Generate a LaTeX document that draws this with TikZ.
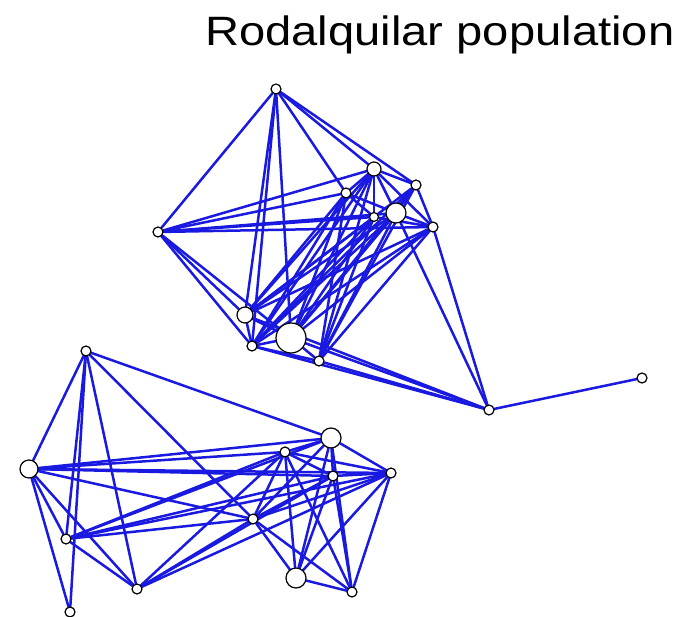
\documentclass[tikz,border=0pt]{standalone}
\usepackage{fontspec}
\setmainfont{Liberation Sans}
\usetikzlibrary{backgrounds}
\definecolor{edgeblue}{RGB}{25,25,225}
\tikzset{
  vtx/.style={circle,draw=black,fill=white,line width=1.2pt,inner sep=0pt,minimum size=#1},
  vtx/.default=10pt,
  edge/.style={draw=edgeblue,line width=2.5pt,line cap=round}
}
\begin{document}
\begin{tikzpicture}[x=1pt,y=-1pt]
\useasboundingbox (0,0) rectangle (697,617);
\node[anchor=base west,inner sep=0pt] (title) at (205,46) {\scalebox{1.15}[1]{\fontsize{41}{50}\selectfont Rodalquilar population}};
% top cluster
\node[vtx] (T1) at (276,89) {};
\node[vtx=14pt] (A) at (374,169) {};
\node[vtx] (B) at (416,185) {};
\node[vtx] (C) at (346,193) {};
\node[vtx=20pt] (D) at (396,213) {};
\node[vtx=9pt] (E) at (374,217) {};
\node[vtx] (F) at (433,227) {};
\node[vtx] (G) at (158,232) {};
\node[vtx=16pt] (H) at (245,315) {};
\node[vtx=30pt] (I) at (291,338) {};
\node[vtx] (J) at (252,346) {};
\node[vtx] (K) at (319,361) {};
\node[vtx] (L) at (489,410) {};
\node[vtx] (M) at (642,378) {};
% bottom cluster
\node[vtx] (N) at (86,351) {};
\node[vtx=20pt] (O) at (331,438) {};
\node[vtx] (P) at (285,452) {};
\node[vtx=18pt] (Q) at (29,469) {};
\node[vtx] (R) at (333,476) {};
\node[vtx] (S) at (391,473) {};
\node[vtx] (T) at (253,519) {};
\node[vtx] (U) at (66,539) {};
\node[vtx] (V) at (137,589) {};
\node[vtx=20pt] (W) at (296,578) {};
\node[vtx] (X) at (352,592) {};
\node[vtx] (Y) at (70,612) {};
\begin{scope}[on background layer]
% top cluster edges
\foreach \a/\b in {T1/G,T1/H,T1/J,T1/I,T1/C,T1/A,T1/B,
  G/A,G/C,G/E,G/D,G/F,G/H,G/J,G/I,
  A/B,A/C,A/D,A/E,A/F,B/D,B/F,C/D,C/E,D/F,E/F,
  H/J,H/I,J/I,I/K,J/K,
  D/L,F/L,H/L,J/L,I/L,K/L,L/M}
  \draw[edge] (\a) -- (\b);
\foreach \a in {H,I,J,K}
  \foreach \b in {A,B,C,D,E,F}
    \draw[edge] (\a) -- (\b);
% bottom cluster edges
\foreach \a/\b in {N/Q,N/U,N/Y,N/V,N/T,N/O,
  Q/O,Q/P,Q/R,Q/S,Q/T,Q/U,Q/V,Q/Y,
  U/P,U/O,U/R,U/S,U/V,U/T,
  V/T,V/P,V/R,V/S,
  T/P,T/O,T/R,T/S,T/W,T/X,
  P/O,P/R,P/S,P/W,P/X,
  O/R,O/S,O/W,O/X,
  R/S,R/W,R/X,S/W,S/X,W/X}
  \draw[edge] (\a) -- (\b);
\end{scope}
\end{tikzpicture}
\end{document}
